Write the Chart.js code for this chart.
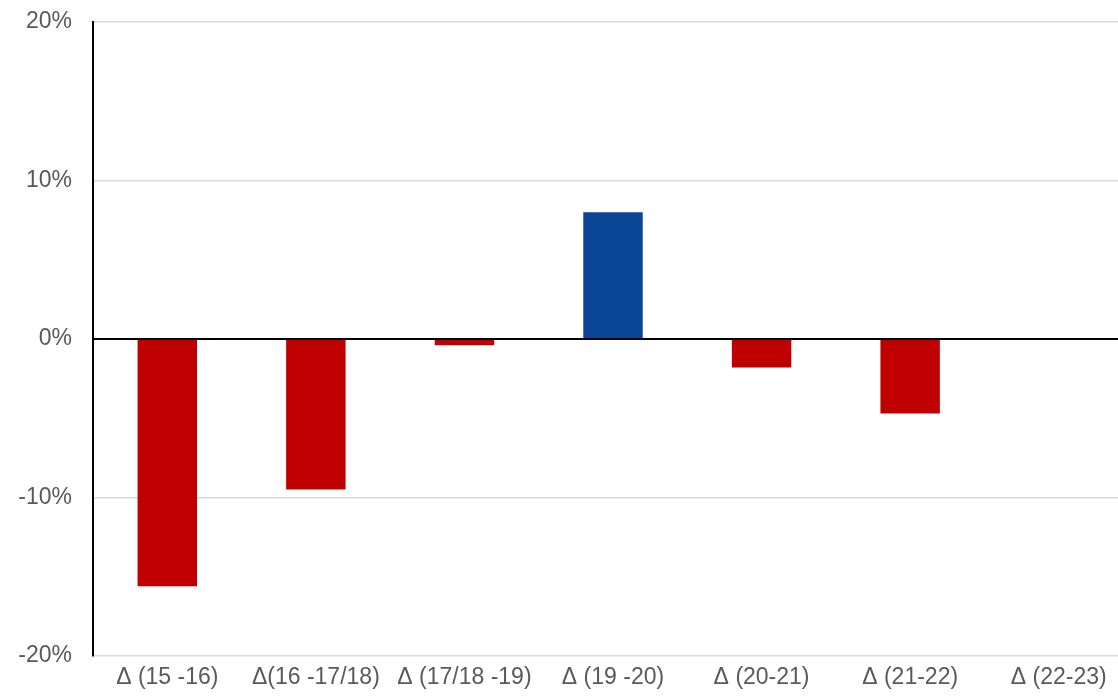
<!DOCTYPE html>
<html>
<head>
<meta charset="utf-8">
<script src="https://cdn.jsdelivr.net/npm/chart.js@4"></script>
<style>
  html, body { margin: 0; padding: 0; background: #fff; overflow: hidden; }
  #box { width: 1133px; height: 698px; }
</style>
</head>
<body>
<div id="box"><canvas id="grafico"></canvas></div>
<script>
const categorias = ['Δ (15 -16)', 'Δ(16 -17/18)', 'Δ (17/18 -19)', 'Δ (19 -20)', 'Δ (20-21)', 'Δ (21-22)', 'Δ (22-23)'];
const valores = [-15.6, -9.5, -0.4, 8.0, -1.8, -4.7, 0];
const ticksY = [-20, -10, 0, 10, 20];

const rojo = '#C00000';
const azul = '#0B4595';

let ctx = document.getElementById('grafico').getContext('2d');

let miGrafico = new Chart(ctx, {
    type: 'bar',
    data: {
        labels: categorias,
        datasets: [{
            data: valores,
            backgroundColor: valores.map(v => v >= 0 ? azul : rojo),
            barPercentage: 0.4,
            categoryPercentage: 1
        }]
    },
    options: {
        responsive: true,
        maintainAspectRatio: false,
        animation: false,
        layout: { padding: { top: 22, right: 0, left: 0, bottom: 0 } },
        plugins: {
            legend: { display: false },
            tooltip: { enabled: false }
        },
        scales: {
            x: {
                grid: { display: false },
                border: { display: false },
                ticks: {
                    color: '#595959',
                    font: { family: 'Liberation Sans', size: 23 },
                    padding: 0,
                    maxRotation: 0,
                    autoSkip: false
                },
                afterFit: scale => {
                    scale.height = 42;
                    scale.paddingLeft = 0;
                    scale.paddingRight = 0;
                }
            },
            y: {
                min: -20,
                max: 20,
                afterBuildTicks: scale => { scale.ticks = ticksY.map(v => ({ value: v })); },
                grid: {
                    color: c => c.tick && c.tick.value === 0 ? '#000000' : '#d9d9d9',
                    lineWidth: c => c.tick && c.tick.value === 0 ? 2 : 1.5,
                    drawTicks: false
                },
                border: { display: true, color: '#000000', width: 2 },
                ticks: {
                    color: '#595959',
                    font: { family: 'Liberation Sans', size: 23 },
                    padding: 21,
                    callback: v => v + '%'
                },
                afterFit: scale => {
                    scale.width = 93;
                    scale.paddingTop = 0;
                    scale.paddingBottom = 0;
                }
            }
        }
    }
});
</script>
</body>
</html>
